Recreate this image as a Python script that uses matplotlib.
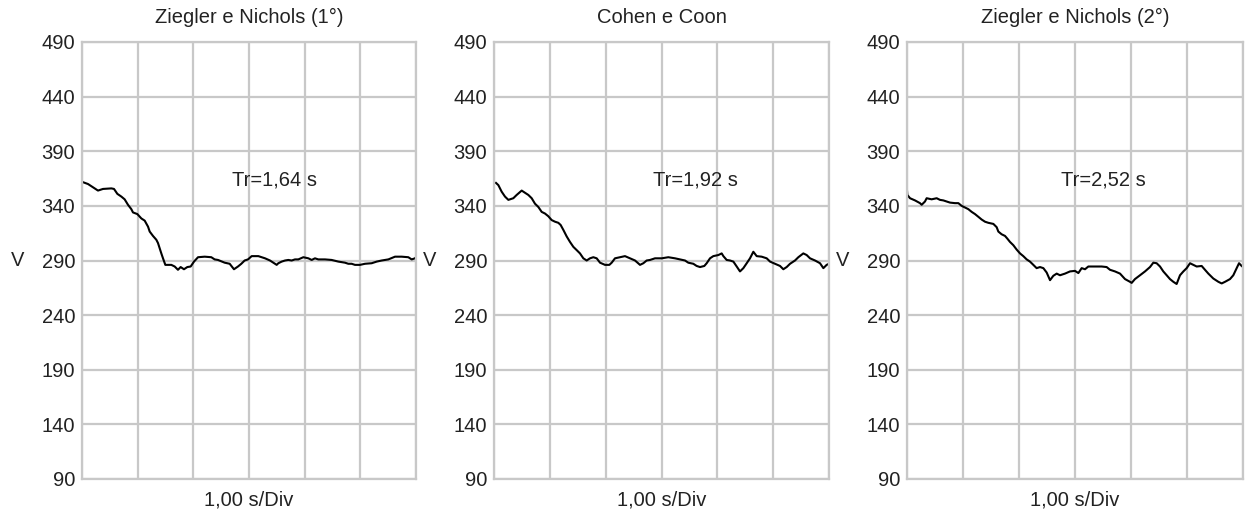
import matplotlib.pyplot as plt
import numpy as np

plt.rcParams['font.family'] = ['Liberation Sans', 'DejaVu Sans']

# Data (time in s, voltage)
titles = ['Ziegler e Nichols (1°)', 'Cohen e Coon', 'Ziegler e Nichols (2°)']
rise_labels = ['Tr=1,64 s', 'Tr=1,92 s', 'Tr=2,52 s']
rise_label_x = [3.45, 3.6, 3.5]

t1 = [0.0, 0.108, 0.228, 0.287, 0.377, 0.527, 0.575, 0.635, 0.707, 0.766, 0.826, 0.886,
      0.916, 0.994, 1.066, 1.126, 1.186, 1.216, 1.275, 1.335, 1.365, 1.425, 1.455, 1.497,
      1.605, 1.665, 1.724, 1.772, 1.832, 1.892, 1.952, 2.012, 2.084, 2.204, 2.323, 2.383,
      2.443, 2.563, 2.653, 2.730, 2.802, 2.862, 2.922, 2.982, 3.048, 3.168, 3.288, 3.377,
      3.437, 3.497, 3.527, 3.587, 3.647, 3.707, 3.767, 3.826, 3.886, 3.976, 4.066, 4.126,
      4.185, 4.245, 4.365, 4.485, 4.605, 4.724, 4.784, 4.844, 4.904, 4.994, 5.084, 5.204,
      5.294, 5.384, 5.503, 5.623, 5.743, 5.862, 5.922, 5.982, 6.0]
v1 = [362, 360, 356, 354, 355.5, 356, 355.5, 351, 348.5, 346, 341, 337,
      334, 332.5, 328.5, 326.5, 321, 316.5, 312.5, 309, 306, 296.5, 292, 286,
      286, 284.5, 281.5, 284, 282, 284, 284.5, 289, 293, 293.5, 293, 291,
      290.5, 288, 287, 282, 284.5, 287, 290, 291, 294, 294, 292, 290,
      288, 286, 287.5, 289, 290, 290.5, 290, 291, 291, 293, 292, 290.5,
      292, 291, 291, 290.5, 289, 288, 287, 287, 286, 286, 287, 287.5,
      289, 290, 291, 293.5, 293.5, 293, 291, 292, 293]

t2 = [0.036, 0.078, 0.137, 0.197, 0.257, 0.346, 0.406, 0.496, 0.555, 0.615, 0.675, 0.734,
      0.794, 0.854, 0.913, 0.973, 1.033, 1.093, 1.152, 1.194, 1.242, 1.302, 1.361, 1.421,
      1.481, 1.540, 1.600, 1.660, 1.719, 1.779, 1.839, 1.899, 1.988, 2.066, 2.108, 2.167,
      2.257, 2.346, 2.436, 2.526, 2.615, 2.675, 2.734, 2.794, 2.884, 3.003, 3.122, 3.242,
      3.331, 3.421, 3.480, 3.570, 3.630, 3.690, 3.767, 3.809, 3.869, 3.928, 4.018, 4.078,
      4.108, 4.167, 4.227, 4.287, 4.347, 4.406, 4.466, 4.526, 4.585, 4.645, 4.705, 4.794,
      4.884, 4.944, 5.033, 5.123, 5.182, 5.242, 5.302, 5.391, 5.451, 5.540, 5.600, 5.660,
      5.750, 5.839, 5.899, 5.958, 6.0]
v2 = [361, 359, 353, 348.5, 345.5, 347, 350, 354, 352, 350, 347, 342,
      339, 334.5, 333, 330.5, 327, 325.5, 324.5, 322.5, 318, 312, 307, 302.5,
      299.5, 296.5, 292, 290, 292, 293, 292, 288, 286, 286, 288, 292,
      293, 294, 292, 290, 286, 287.5, 290, 290.5, 292, 292, 293, 292,
      291, 290, 288, 287, 285, 284, 285, 287.5, 292, 294, 295, 296.5,
      294, 290.5, 290, 289, 284.5, 280, 283, 287.5, 292, 298, 294, 293.5,
      292, 289, 287, 285, 282, 284, 287, 290, 293, 296.5, 295, 292,
      290, 287.5, 283, 286, 287]

t3 = [0.0, 0.006, 0.054, 0.143, 0.232, 0.262, 0.321, 0.351, 0.440, 0.530, 0.589, 0.649,
      0.708, 0.768, 0.857, 0.917, 0.976, 1.036, 1.095, 1.155, 1.214, 1.274, 1.333, 1.393,
      1.452, 1.542, 1.601, 1.631, 1.690, 1.750, 1.792, 1.839, 1.899, 1.958, 2.018, 2.077,
      2.137, 2.196, 2.256, 2.315, 2.375, 2.435, 2.494, 2.554, 2.613, 2.673, 2.732, 2.821,
      2.911, 3.0, 3.060, 3.119, 3.179, 3.238, 3.357, 3.476, 3.565, 3.625, 3.714, 3.804,
      3.893, 3.982, 4.012, 4.071, 4.161, 4.25, 4.339, 4.399, 4.458, 4.518, 4.577, 4.637,
      4.696, 4.756, 4.815, 4.875, 4.935, 4.994, 5.054, 5.113, 5.173, 5.262, 5.321, 5.381,
      5.470, 5.560, 5.619, 5.679, 5.768, 5.827, 5.887, 5.929, 5.976]
v3 = [354, 350, 347, 345, 342.5, 341, 344, 347, 346, 347, 345.5, 345,
      344, 343, 342.5, 342.5, 340, 338.5, 337, 334.5, 332.5, 330, 327.5, 325.5,
      324.5, 323.5, 320.5, 316.5, 314, 312.5, 310, 307, 304, 300, 296.5, 294,
      291, 289, 286, 283, 284, 283, 279, 272, 276, 278, 276.5, 278,
      280, 280.5, 278.5, 283, 282, 284.5, 284.5, 284.5, 284, 281.5, 280, 278,
      273, 270.5, 269.5, 273, 276.5, 280, 284, 288, 287.5, 284.5, 280, 276.5,
      273, 270.5, 268.5, 276.5, 280, 283, 287.5, 286, 284.5, 285, 281.5, 278,
      273.5, 270.5, 269, 270.5, 273, 276.5, 283, 287.5, 285]

series = [(t1, v1), (t2, v2), (t3, v3)]

fig = plt.figure(figsize=(12.46, 5.13), dpi=100)
lefts = [82, 494, 907]
widths = [334, 335, 336]
grid_col = '#c8c8c8'

for i in range(3):
    ax = fig.add_axes([lefts[i] / 1246, 1 - 479 / 513, widths[i] / 1246, 437 / 513])
    t, v = series[i]
    ax.plot(t, v, color='black', linewidth=1.5)
    ax.set_xlim(0, 6)
    ax.set_ylim(90, 490)
    ax.set_xticks(np.arange(0, 7, 1))
    ax.set_yticks(np.arange(90, 491, 50))
    ax.set_xticklabels([])
    ax.tick_params(axis='both', length=0, labelsize=14.5, pad=5, colors='#222222')
    ax.grid(True, color=grid_col, linewidth=1.6)
    ax.set_axisbelow(True)
    for s in ax.spines.values():
        s.set_color(grid_col)
        s.set_linewidth(1.6)
    ax.set_title(titles[i], fontsize=14.5, pad=14, color='#222222')
    ax.set_xlabel('1,00 s/Div', fontsize=14.5, labelpad=3, color='#222222')
    ax.set_ylabel('V', fontsize=14.5, rotation=0, va='center', labelpad=17, color='#222222')
    ax.text(rise_label_x[i], 364, rise_labels[i], fontsize=14.5, ha='center', va='center',
            color='#222222')

fig.savefig('out.png', dpi=100)
